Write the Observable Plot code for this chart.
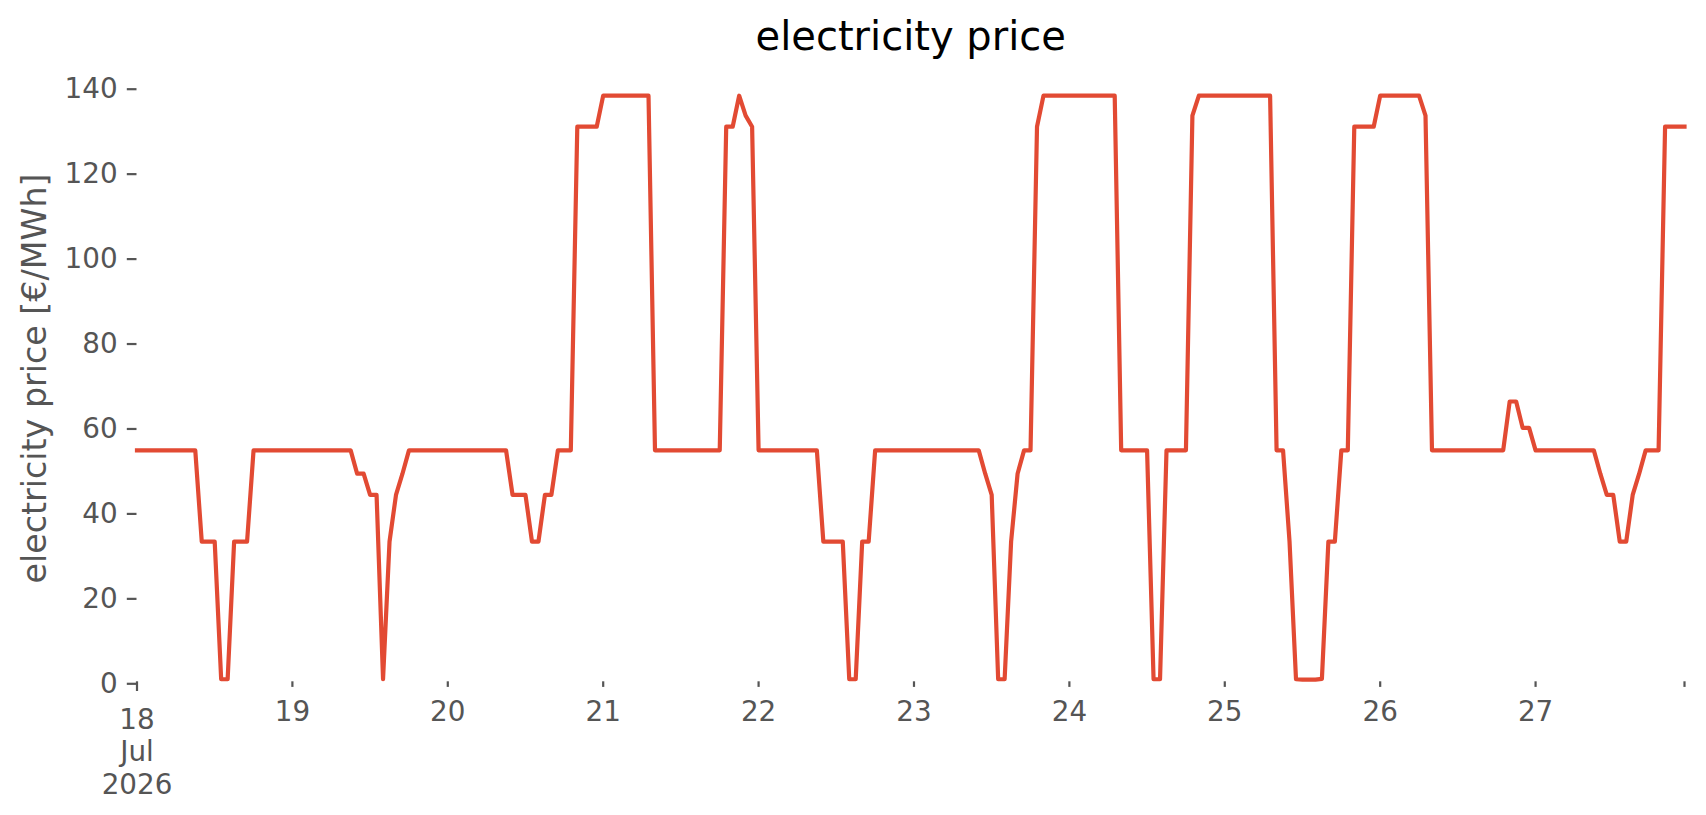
<!DOCTYPE html>
<html>
<head>
<meta charset="utf-8">
<script src="https://cdn.jsdelivr.net/npm/d3@7"></script>
<script src="https://cdn.jsdelivr.net/npm/@observablehq/plot@0.6"></script>
<style>
  html, body { margin: 0; padding: 0; background: #ffffff; }
  svg { display: block; }
</style>
</head>
<body>
<div id="chart"></div>
<script>
// hourly electricity price [€/MWh], one array per day (00:00 .. 23:00, UTC)
const startYear = 2026, startMonth = 6, startDay = 18; // 18 Jul 2026
const day18 = [54.5,54.5,54.5,54.5,54.5,54.5,54.5,54.5,54.5,54.5,33,33,33,0.6,0.6,33,33,33,54.5,54.5,54.5,54.5,54.5,54.5];
const day19 = [54.5,54.5,54.5,54.5,54.5,54.5,54.5,54.5,54.5,54.5,49,49,44,44,0.6,33,44,49,54.5,54.5,54.5,54.5,54.5,54.5];
const day20 = [54.5,54.5,54.5,54.5,54.5,54.5,54.5,54.5,54.5,54.5,44,44,44,33,33,44,44,54.5,54.5,54.5,130.7,130.7,130.7,130.7];
const day21 = [138,138,138,138,138,138,138,138,54.5,54.5,54.5,54.5,54.5,54.5,54.5,54.5,54.5,54.5,54.5,130.7,130.7,138,133.3,130.7];
const day22 = [54.5,54.5,54.5,54.5,54.5,54.5,54.5,54.5,54.5,54.5,33,33,33,33,0.6,0.6,33,33,54.5,54.5,54.5,54.5,54.5,54.5];
const day23 = [54.5,54.5,54.5,54.5,54.5,54.5,54.5,54.5,54.5,54.5,54.5,49,44,0.6,0.6,33,49,54.5,54.5,130.7,138,138,138,138];
const day24 = [138,138,138,138,138,138,138,138,54.5,54.5,54.5,54.5,54.5,0.6,0.6,54.5,54.5,54.5,54.5,133.3,138,138,138,138];
const day25 = [138,138,138,138,138,138,138,138,54.5,54.5,33,0.6,0.5,0.5,0.5,0.7,33,33,54.5,54.5,130.7,130.7,130.7,130.7];
const day26 = [138,138,138,138,138,138,138,133.3,54.5,54.5,54.5,54.5,54.5,54.5,54.5,54.5,54.5,54.5,54.5,54.5,66,66,59.8,59.8];
const day27 = [54.5,54.5,54.5,54.5,54.5,54.5,54.5,54.5,54.5,54.5,49,44,44,33,33,44,49,54.5,54.5,54.5,130.7,130.7,130.7,130.7];
const days = [day18, day19, day20, day21, day22, day23, day24, day25, day26, day27];

const yTicks = [0, 20, 40, 60, 80, 100, 120, 140];
const firstTickLabel = "18\nJul\n2026";
const minorTickDays = [19, 20, 21, 22, 23, 24, 25, 26, 27];
const titleText = "electricity price";
const yLabelText = "electricity price [€/MWh]";

// build table
const data = [];
days.forEach((vals, d) => {
  vals.forEach((v, h) => {
    data.push({time: new Date(Date.UTC(startYear, startMonth, startDay + d, h)), price: v});
  });
});
const t0 = data[0].time;
const t1 = data[data.length - 1].time;
const majorTicks = [t0];
const minorTicks = minorTickDays.map(d => new Date(Date.UTC(startYear, startMonth, d)));
const endTicks = [t1];

const W = 1706, H = 815;
const mL = 136.5, mR = 22, mT = 86.7, mB = 133.7;
const font = "DejaVu Sans, Verdana, sans-serif";
const grey = "#555555";

const chart = Plot.plot({
  width: W,
  height: H,
  marginLeft: mL,
  marginRight: mR,
  marginTop: mT,
  marginBottom: mB,
  style: {fontFamily: font, background: "#ffffff", overflow: "visible"},
  x: {type: "utc", domain: [t0, t1]},
  y: {domain: [0, 140]},
  marks: [
    Plot.axisY(yTicks, {
      tickSize: 9.7, tickPadding: 9.7, fontSize: 27.8, color: grey,
      strokeWidth: 2.2, tickFormat: d => String(d), label: null, dy: 2
    }),
    Plot.axisX(majorTicks, {
      tickSize: 9.7, tickPadding: 14.3, fontSize: 27.8, color: grey,
      strokeWidth: 2.2, tickFormat: () => firstTickLabel, lineHeight: 1.17, label: null
    }),
    Plot.axisX(minorTicks, {
      tickSize: 5.6, tickPadding: 13.4, fontSize: 27.8, color: grey,
      strokeWidth: 2.2, tickFormat: d => String(d.getUTCDate()), label: null
    }),
    Plot.axisX(endTicks, {
      tickSize: 5.6, tickPadding: 13.4, fontSize: 27.8, color: grey,
      strokeWidth: 2.2, tickFormat: () => "", label: null
    }),
    Plot.line(data, {x: "time", y: "price", stroke: "#E24A33", strokeWidth: 4.2, strokeLinejoin: "round", strokeLinecap: "square"}),
    Plot.text([titleText], {
      text: d => d, frameAnchor: "top", lineAnchor: "bottom", textAnchor: "middle",
      dy: 50 - mT, fontSize: 40, fill: "#000000"
    }),
    Plot.text([yLabelText], {
      text: d => d, frameAnchor: "left", lineAnchor: "bottom", textAnchor: "middle",
      rotate: -90, dx: 45 - mL, dy: -6, fontSize: 33.3, fill: grey
    })
  ]
});
document.getElementById("chart").appendChild(chart);
</script>
</body>
</html>
